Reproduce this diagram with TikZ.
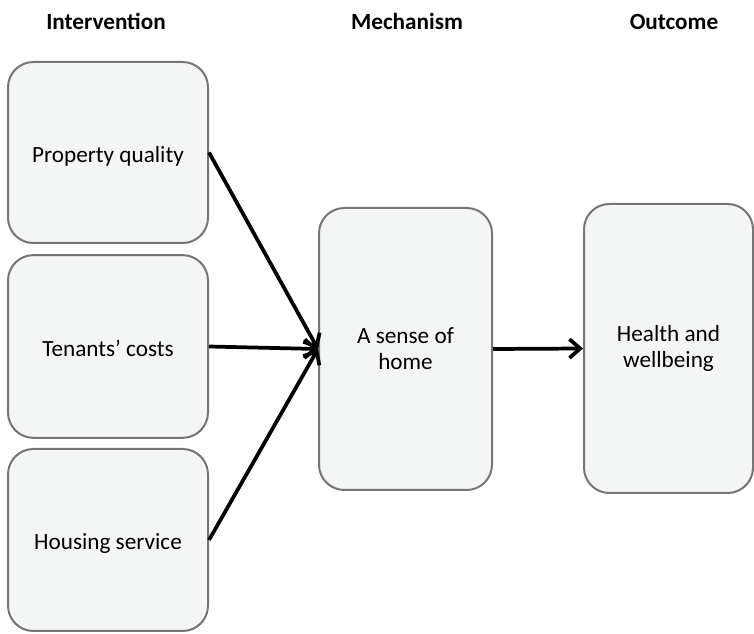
\documentclass[tikz,border=0pt]{standalone}
\usepackage{fontspec}
\setmainfont{Carlito}
\usetikzlibrary{
  arrows.meta,
  positioning
}
\definecolor{stageFill}{rgb}{0.957,0.961,0.961}
\definecolor{stageDraw}{rgb}{0.46,0.46,0.46}
\tikzset{
  stage/.style={
    rectangle,
    rounded corners=19pt,
    draw=stageDraw,
    fill=stageFill,
    line width=1.5pt,
    align=center,
    inner sep=0pt,
    font=\fontsize{17.4}{19.5}\selectfont
  }
}
\tikzset{
  oneline/.style={
    text height=15pt,
    text depth=0pt
  }
}
\tikzset{
  heading/.style={
    anchor=base,
    font=\bfseries\fontsize{17.4}{20}\selectfont
  }
}
\tikzset{
  link/.style={
    ->,
    line width=2.8pt
  }
}

\begin{document}
\begin{tikzpicture}[x=0.75pt, y=-0.75pt,
    >={Straight Barb[length=8pt, width=14pt]}]
    \useasboundingbox (0,0) rectangle (754,634);

    \node[heading] (hInt) at (106,30) {Intervention};
    \node[heading] (hMech) at (407,30) {Mechanism};
    \node[heading] (hOut) at (674,30) {Outcome};

    \node[stage, oneline, minimum width=150pt, minimum height=135.75pt]
      (prop) at (108,152.5) {Property quality};
    \node[stage, oneline, minimum width=150pt, minimum height=137pt]
      (cost) at (108,346.5) {Tenants’ costs};
    \node[stage, oneline, minimum width=150pt, minimum height=136.5pt]
      (serv) at (108,540) {Housing service};

    \node[stage, minimum width=129.75pt, minimum height=211.5pt]
      (home) at (405.5,349) {A sense of\\home};
    \node[stage, minimum width=126.75pt, minimum height=216.75pt]
      (health) at (668.5,348.5) {Health and\\wellbeing};

    \foreach \From in {prop, cost, serv}{
      \draw[link] (\From.east) -- (home.west);
    }
    \draw[link] (home.east) -- (health.west);
  \end{tikzpicture}
\end{document}
